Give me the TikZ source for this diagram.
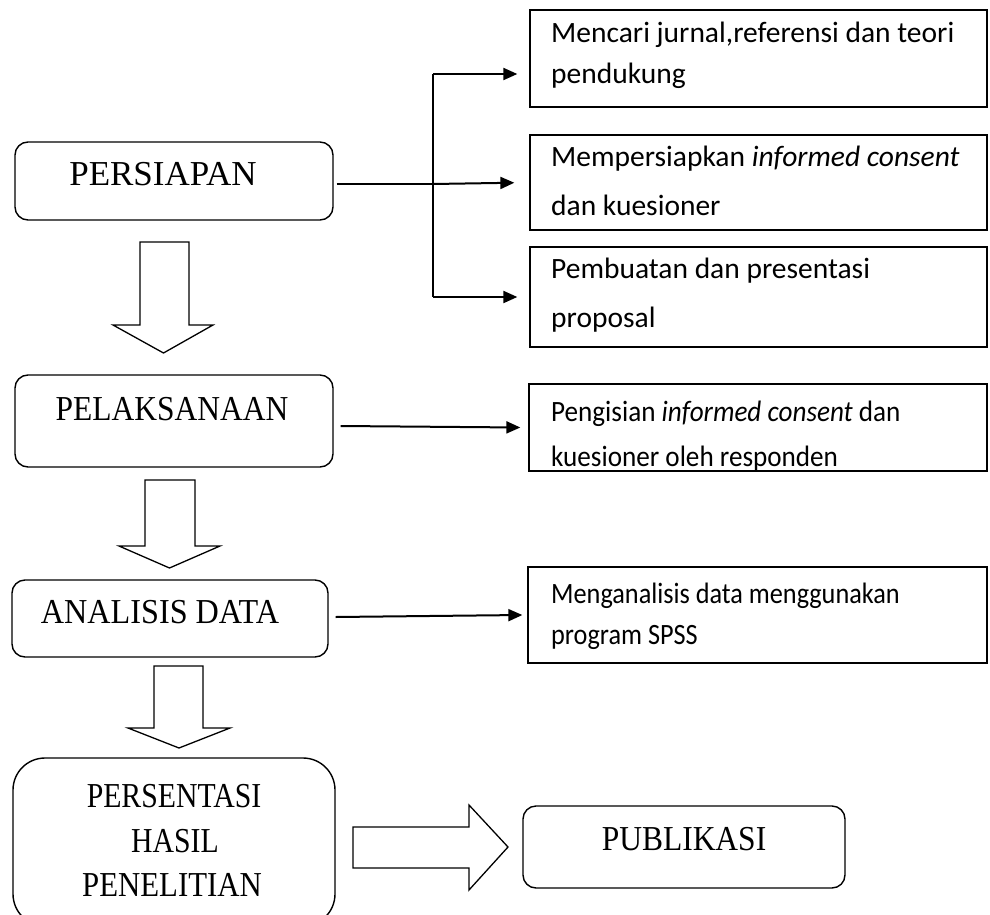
\documentclass[tikz,border=0pt]{standalone}
\usepackage{fontspec}
\setmainfont{Liberation Serif}
\newfontfamily\calfont{Carlito}
\usetikzlibrary{arrows.meta}
\newcommand\hsc[2]{\scalebox{#1}[1]{#2}}
\tikzset{
  rbox/.style={draw, line width=1.4pt, rounded corners=13pt, inner sep=0pt},
  sbox/.style={draw, line width=1.3pt, inner sep=0pt},
  ltxt/.style={font=\fontsize{35}{35}\selectfont, anchor=base, inner sep=0pt},
  rtxt/.style={font=\calfont\fontsize{29.5}{29.5}\selectfont, anchor=base west, inner sep=0pt},
  conn/.style={line width=2pt},
  carr/.style={line width=2pt, -{Triangle[length=14pt,width=12pt]}},
  barrow/.style={draw, line width=1.3pt, fill=white, line join=miter},
}
\begin{document}
\begin{tikzpicture}[x=1pt,y=-1pt]
\useasboundingbox (0,0) rectangle (990,915);
\clip (0,0) rectangle (990,915);
% left boxes
\node[rbox, minimum width=318pt, minimum height=78pt] (persiapan) at (174,181) {};
\node[ltxt] (tpersiapan) at (163,185) {\hsc{1.0}{PERSIAPAN}};
\node[rbox, minimum width=318pt, minimum height=92pt] (pelak) at (174,421) {};
\node[ltxt] (tpelak) at (172,420) {\hsc{0.9}{PELAKSANAAN}};
\node[rbox, minimum width=316pt, minimum height=77pt] (analisis) at (170,618.5) {};
\node[ltxt] (tanalisis) at (160,623) {\hsc{0.92}{ANALISIS DATA}};
\node[rbox, rounded corners=32pt, minimum width=322pt, minimum height=168pt] (persentasi) at (174,842) {};
\node[ltxt] (tpers1) at (174,807) {\hsc{0.85}{PERSENTASI}};
\node[ltxt] (tpers2) at (175,852) {\hsc{0.85}{HASIL}};
\node[ltxt] (tpers3) at (172,896) {\hsc{0.88}{PENELITIAN}};
\node[rbox, minimum width=322pt, minimum height=82pt] (publikasi) at (684,847) {};
\node[ltxt] (tpublikasi) at (684,850) {\hsc{0.9}{PUBLIKASI}};
% block arrows
\draw[barrow] (140,242) -- (189,242) -- (189,325) -- (213,325) -- (163.5,353) -- (113,325) -- (140,325) -- cycle;
\draw[barrow] (145,480) -- (195,480) -- (195,546) -- (220,546) -- (169.5,568) -- (119,546) -- (145,546) -- cycle;
\draw[barrow] (154,666) -- (203,666) -- (203,728) -- (230,728) -- (179,748) -- (128,728) -- (154,728) -- cycle;
\draw[barrow] (353,827) -- (469,827) -- (469,805) -- (508,847) -- (469,890) -- (469,868) -- (353,868) -- cycle;
% right boxes
\node[sbox, minimum width=457pt, minimum height=97pt] (box1) at (758.5,58.5) {};
\node[rtxt] at (551,43) {Mencari jurnal,referensi dan teori};
\node[rtxt] at (551,84) {pendukung};
\node[sbox, minimum width=457pt, minimum height=95pt] (box2) at (758.5,182.5) {};
\node[rtxt] at (551,166) {Mempersiapkan \textit{informed consent}};
\node[rtxt] at (551,215) {dan kuesioner};
\node[sbox, minimum width=457pt, minimum height=100pt] (box3) at (758.5,297) {};
\node[rtxt] at (551,278) {Pembuatan dan presentasi};
\node[rtxt] at (551,327) {proposal};
\node[sbox, minimum width=458pt, minimum height=87pt] (box4) at (758,427.5) {};
\begin{scope}
\clip (box4.north west) rectangle (box4.south east);
\node[rtxt] at (551,421) {\hsc{0.92}{Pengisian \textit{informed consent} dan}};
\node[rtxt] at (551,466) {\hsc{0.92}{kuesioner oleh responden}};
\end{scope}
\node[sbox, minimum width=459pt, minimum height=96pt] (box5) at (757.5,615) {};
\node[rtxt] at (551,603) {\hsc{0.89}{Menganalisis data menggunakan}};
\node[rtxt] at (551,644) {\hsc{0.89}{program SPSS}};
% connectors
\coordinate (bmid) at (433,184);
\coordinate (btop) at (433,74);
\coordinate (bbot) at (433,297);
\draw[conn] ([xshift=3pt,yshift=-3pt]persiapan.east) -- (bmid);
\draw[conn] (btop) -- (bbot);
\draw[carr, shorten >=12pt] (btop) -- (btop -| box1.west);
\draw[carr, shorten >=15pt] (bmid) -- (box2.west);
\draw[carr, shorten >=12pt] (bbot) -- (box3.west);
\draw[carr] ([xshift=7pt,yshift=-5pt]pelak.east) -- ([xshift=-8pt]box4.west);
\draw[carr] ([xshift=7pt,yshift=1.5pt]analisis.east) -- ([xshift=-5pt]box5.west);
\end{tikzpicture}
\end{document}
